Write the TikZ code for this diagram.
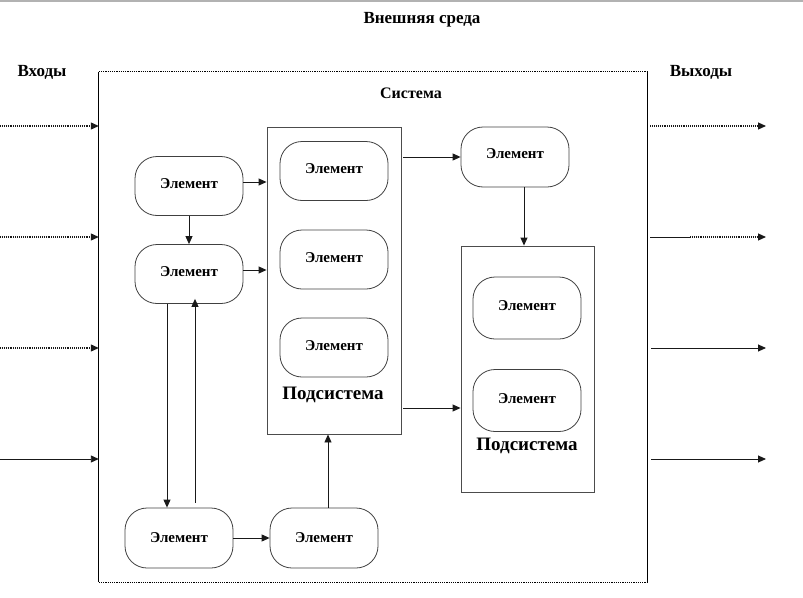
\documentclass[tikz,border=0pt]{standalone}
\usepackage{fontspec}
\setmainfont{Liberation Serif}
\usetikzlibrary{arrows.meta}
\begin{document}
\begin{tikzpicture}[x=1pt,y=-1pt,
  elem/.style={draw=black!75, line width=0.8pt, rounded corners=22pt, minimum width=108pt, minimum height=59pt, inner sep=0pt, font=\bfseries\fontsize{15}{15}\selectfont},
  box/.style={draw=black!70, line width=0.9pt, inner sep=0pt},
  arr/.style={-{Triangle[length=8pt,width=7pt]}, line width=0.9pt, draw=black!90},
  sublbl/.style={font=\bfseries\fontsize{19}{19}\selectfont, inner sep=0pt},
  ttl/.style={font=\bfseries\fontsize{17}{17}\selectfont, inner sep=0pt}
]
\useasboundingbox (0,0) rectangle (803,597);
\draw[gray!60, line width=1.5pt] (0,0.75) -- (803,0.75);

% titles
\node[ttl] (env) at (422,20) {Внешняя среда};
\node[ttl] (inl) at (42,72) {Входы};
\node[ttl] (outl) at (701,72) {Выходы};

% system box
\node[inner sep=0pt, minimum width=548pt, minimum height=510pt] (sys) at (373,327) {};
\draw[line width=0.9pt] (sys.north west) -- (sys.south west);
\draw[line width=0.9pt] (sys.north east) -- (sys.south east);
\draw[line width=1.2pt, densely dotted] (sys.north west) -- (sys.north east);
\draw[line width=1.2pt, densely dotted] (sys.south west) -- (sys.south east);
\node[ttl, font=\bfseries\fontsize{16}{16}\selectfont] (systl) at (411,93) {Система};

% subsystems
\node[box, minimum width=134pt, minimum height=307pt] (sub1) at (334,280.5) {};
\node[box, minimum width=133pt, minimum height=246pt] (sub2) at (527.5,369) {};
\node[sublbl] (sub1l) at (333,395) {Подсистема};
\node[sublbl] (sub2l) at (527,446) {Подсистема};

% elements
\node[elem] (e1) at (189,186) {\raisebox{4pt}{Элемент}};
\node[elem] (e2) at (189,274) {\raisebox{4pt}{Элемент}};
\node[elem] (s1a) at (334,171) {\raisebox{4pt}{Элемент}};
\node[elem] (s1b) at (334,259.5) {\raisebox{4pt}{Элемент}};
\node[elem] (s1c) at (334,347.5) {\raisebox{4pt}{Элемент}};
\node[elem, minimum height=60pt] (ert) at (515,157) {\raisebox{6pt}{Элемент}};
\node[elem, minimum height=62pt] (s2a) at (527,308) {\raisebox{4pt}{Элемент}};
\node[elem, minimum height=62pt] (s2b) at (527,400.5) {\raisebox{4pt}{Элемент}};
\node[elem, minimum height=60pt] (e3) at (179,538) {Элемент};
\node[elem, minimum height=60pt] (e4) at (324,538) {Элемент};

% inputs
\coordinate (in1) at (0,126);
\coordinate (in2) at (0,237);
\coordinate (in3) at (0,348);
\coordinate (in4) at (0,459);
\draw[arr, densely dotted, line width=1.1pt] (in1) -- (in1 -| sys.west);
\draw[arr, densely dotted, line width=1.1pt] (in2) -- (in2 -| sys.west);
\draw[arr, densely dotted, line width=1.1pt] (in3) -- (in3 -| sys.west);
\draw[arr] (in4) -- (in4 -| sys.west);

% outputs
\coordinate (out1) at (766,126);
\coordinate (out2) at (766,237);
\coordinate (out3) at (766,348);
\coordinate (out4) at (766,459);
\coordinate (mid2) at (690,237);
\draw[arr, densely dotted, line width=1.1pt] ([xshift=3pt]sys.east |- out1) -- (out1);
\draw[line width=0.9pt, black!90] ([xshift=3pt]sys.east |- out2) -- (mid2);
\draw[arr, densely dotted, line width=1.1pt] (mid2) -- (out2);
\draw[arr] ([xshift=4pt]sys.east |- out3) -- (out3);
\draw[arr] ([xshift=4pt]sys.east |- out4) -- (out4);

% internal connectors
\draw[arr] ([yshift=4pt]e1.east) -- ([yshift=4pt]e1.east -| sub1.west);
\draw[arr] (e1.south) -- (e2.north);
\draw[arr] ([yshift=4pt]e2.east) -- ([yshift=4pt]e2.east -| sub1.west);
\draw[arr] ([xshift=2pt]sub1.east |- ert.west) -- (ert.west);
\draw[arr] ([xshift=9pt]ert.south) -- ([xshift=9pt]ert.south |- sub2.north);
\draw[arr] ([xshift=2pt,yshift=-127.5pt]sub1.east) -- ([yshift=-127.5pt]sub1.east -| sub2.west);
\draw[arr] ([xshift=-22pt]e2.south) -- ([xshift=-22pt]e2.south |- e3.north);
\draw[arr] ([xshift=16pt,yshift=5pt]e3.north) -- ([xshift=16pt,yshift=5pt]e3.north |- e2.south);
\draw[arr] (e3.east) -- (e4.west);
\draw[arr] ([xshift=4pt]e4.north) -- ([xshift=4pt]e4.north |- sub1.south);
\end{tikzpicture}
\end{document}
